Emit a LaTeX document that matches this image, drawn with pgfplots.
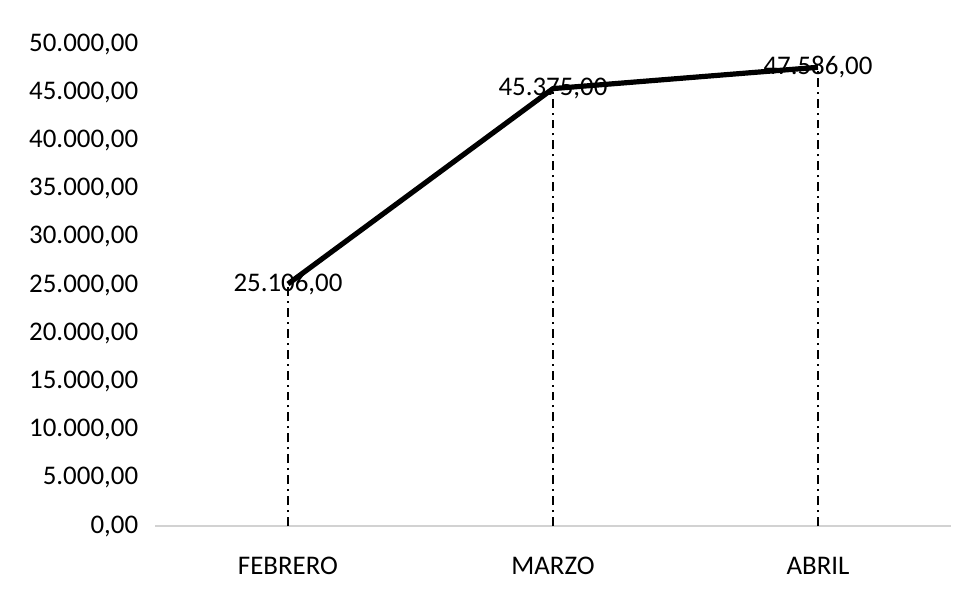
\documentclass[border=0pt]{standalone}
\usepackage{fontspec}
\setmainfont{Carlito}
\usepackage{pgfplots}
\pgfplotsset{compat=1.18}
\begin{document}
\begin{tikzpicture}
\fontsize{13.5}{16}\selectfont
\begin{axis}[
scale only axis,
width=397.5bp, height=241bp,
xmin=-0.5, xmax=2.5,
ymin=0, ymax=50000,
xtick={0,1,2},
xticklabels={FEBRERO,MARZO,ABRIL},
ytick={0,5000,...,50000},
scaled y ticks=false,
axis y line*=left,
axis x line*=bottom,
x axis line style={gray!35, line width=0.6pt, -},
y axis line style={draw=none, -},
major tick length=0pt,
yticklabel style={anchor=east, xshift=-4bp},
xticklabel style={yshift=-11bp},
/pgf/number format/.cd, fixed, fixed zerofill, precision=2, 1000 sep={.}, dec sep={,}, assume math mode=true,
/pgfplots/.cd,
ticklabel style={font=\fontsize{13.5}{16}\selectfont},
clip=false,
]
% drop lines
\addplot [ycomb, black, line width=0.9pt, dash pattern=on 4.5pt off 2.5pt on 1pt off 2.5pt]
coordinates {
(0, 25106)
(1, 45375)
(2, 47586)
};
% main line
\addplot [black, line width=2.6pt, line join=round,
nodes near coords, nodes near coords align={center},
every node near coord/.append style={anchor=center, font=\fontsize{13.5}{16}\selectfont, text=black},
point meta=y]
coordinates {
(0, 25106)
(1, 45375)
(2, 47586)
};
\end{axis}
\pgfresetboundingbox
\path[use as bounding box] (-77.75bp,-34bp) rectangle (409.25bp,263bp);
\end{tikzpicture}
\end{document}
